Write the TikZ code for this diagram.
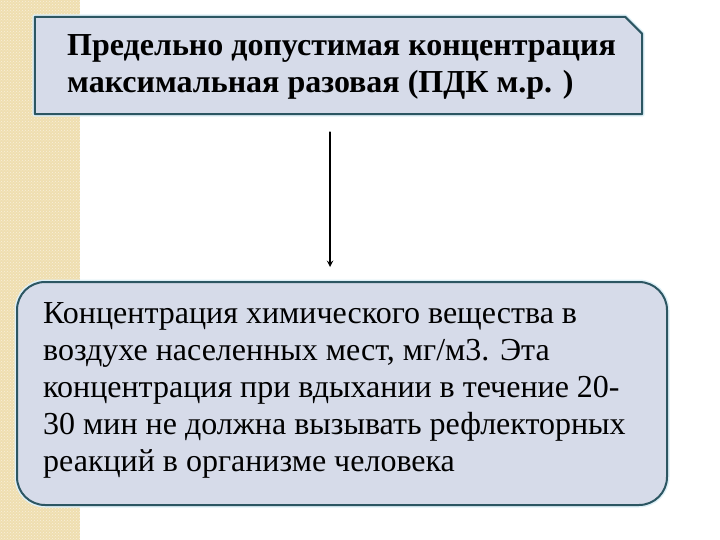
\documentclass[tikz,border=0pt]{standalone}
\usepackage{fontspec}
\setmainfont{Liberation Serif}
\usetikzlibrary{patterns}
\definecolor{stripbeige}{RGB}{239,222,176}
\definecolor{boxfill}{RGB}{214,219,233}
\definecolor{boxline}{RGB}{44,86,98}
\definecolor{glow}{RGB}{222,240,247}
\tikzset{
  box/.style={draw=boxline,fill=boxfill,line width=2pt,inner sep=0pt,
    preaction={draw=glow,line width=5pt}},
  txt/.style={inner sep=0pt,align=left,anchor=north west,
    font=\fontsize{32}{37}\selectfont}
}
\begin{document}
\begin{tikzpicture}[line cap=round,line join=round,>=stealth,x=1pt,y=-1pt]
\useasboundingbox (0,0) rectangle (720,540);
% strip on the left
\fill[stripbeige] (0,0) rectangle (80,540);
\fill[pattern=crosshatch dots,pattern color=white!55!stripbeige] (0,0) rectangle (80,540);
% boxes
\node[inner sep=0pt,minimum width=607pt,minimum height=97pt] (pdk) at (338.5,65.5) {};
\draw[box] (pdk.north west) -- ([xshift=-17pt]pdk.north east)
  -- ([yshift=-17pt]pdk.north east) -- (pdk.south east) -- (pdk.south west) -- cycle;
\node[box,rounded corners=28pt,minimum width=650pt,minimum height=223pt]
  (def) at (342,393.5) {};
% texts
\node[txt,font=\fontsize{32}{37}\selectfont\bfseries] (pdktext) at (67,34)
  {Предельно допустимая концентрация\\
   максимальная разовая (ПДК м.р. )};
\node[txt] (deftext) at (43,302)
  {Концентрация химического вещества в\\
   воздухе населенных мест, мг/м3. Эта\\
   концентрация при вдыхании в течение 20-\\
   30 мин не должна вызывать рефлекторных\\
   реакций в организме человека};
% arrow
\coordinate (arr) at (330,0);
\draw[->,line width=1.8pt,shorten <=18pt,shorten >=14pt]
  (pdk.south -| arr) -- (def.north -| arr);
\end{tikzpicture}
\end{document}
